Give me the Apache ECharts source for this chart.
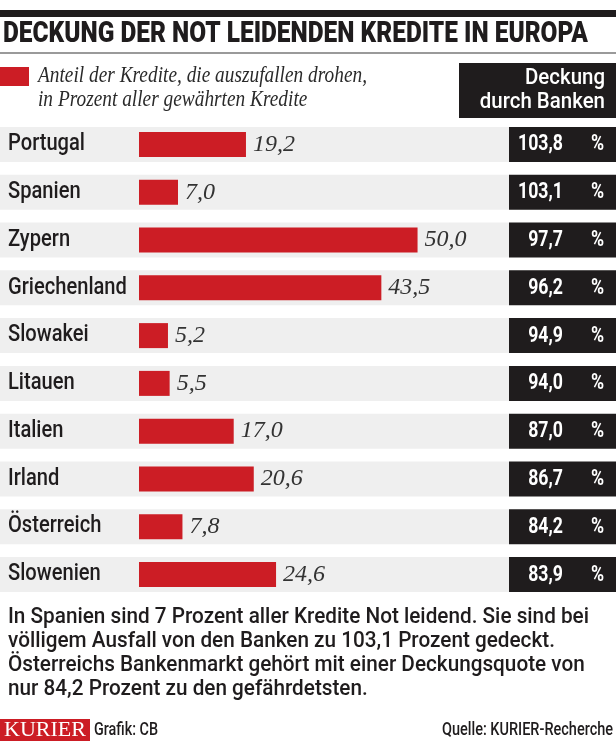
<!DOCTYPE html>
<html><head><meta charset="utf-8">
<script src="https://cdn.jsdelivr.net/npm/echarts@6/dist/echarts.min.js"></script>
<style>html,body{margin:0;padding:0;background:#fff}#c{width:616px;height:742px}</style>
</head><body><div id="c"></div>
<script>
// ---- data ----
const countries = ['Portugal','Spanien','Zypern','Griechenland','Slowakei','Litauen','Italien','Irland','Österreich','Slowenien'];
const shares = [19.2, 7.0, 50.0, 43.5, 5.2, 5.5, 17.0, 20.6, 7.8, 24.6];
const coverage = [103.8, 103.1, 97.7, 96.2, 94.9, 94.0, 87.0, 86.7, 84.2, 83.9];
const titleText = 'DECKUNG DER NOT LEIDENDEN KREDITE IN EUROPA';
const legendLines = ['Anteil der Kredite, die auszufallen drohen,', 'in Prozent aller gewährten Kredite'];
const headerLines = ['Deckung', 'durch Banken'];
const noteLines = [
  'In Spanien sind 7 Prozent aller Kredite Not leidend. Sie sind bei',
  'völligem Ausfall von den Banken zu 103,1 Prozent gedeckt.',
  'Österreichs Bankenmarkt gehört mit einer Deckungsquote von',
  'nur 84,2 Prozent zu den gefährdetsten.'
];
const brandText = 'KURIER';
const creditText = 'Grafik: CB';
const sourceText = 'Quelle: KURIER-Recherche';

// ---- style helpers ----
const SANS = 'Roboto, "Liberation Sans", Arial, sans-serif';
const SERIF = '"Liberation Serif", "DejaVu Serif", serif';
const RED = '#cc1d25', INK = '#1f1c1d', BOX = '#1f1c1d';
const REG = 500;
const mctx = document.createElement('canvas').getContext('2d');
function tw(text, font) { mctx.font = font; return mctx.measureText(text).width; }
const fmt = v => v.toFixed(1).replace('.', ',');

const sTitle = 585 / tw(titleText, '900 30px ' + SANS);
const sReg = 77 / tw('Portugal', REG + ' 23px ' + SANS);
const sHead = 80 / tw('Deckung', REG + ' 22px ' + SANS);
const sBold = 45 / tw('103,8', 'bold 22px ' + SANS);
const sLegend = 329 / tw(legendLines[0], 'italic 23px ' + SERIF);
const sNote = 581 / tw(noteLines[0], REG + ' 22px ' + SANS);
const sBrand = 82 / tw(brandText, '20px ' + SERIF);
const sCredit = 64 / tw(creditText, REG + ' 18px ' + SANS);
const sSource = 171 / tw(sourceText, REG + ' 18px ' + SANS);

function txt(x, y, text, o) {
  return {
    type: 'text', x: x, y: y, scaleX: o.scale || 1,
    style: {
      text: text, fontSize: o.size, fontFamily: o.family || SANS,
      fontWeight: o.weight || REG, fontStyle: o.fstyle || 'normal',
      fill: o.fill || INK, align: o.align || 'left', verticalAlign: 'middle'
    }
  };
}

const graphics = [
  { type: 'rect', shape: { x: 0, y: 10, width: 616, height: 7 }, style: { fill: INK } },
  txt(3, 34.5, titleText, { size: 30, weight: 900, scale: sTitle }),
  { type: 'rect', shape: { x: 0, y: 52, width: 616, height: 2 }, style: { fill: '#9a9a9a' } },
  { type: 'rect', shape: { x: 0, y: 67, width: 29, height: 19 }, style: { fill: RED } },
  txt(38, 76, legendLines[0], { size: 23, family: SERIF, fstyle: 'italic', weight: 'normal', fill: '#2a2a2a', scale: sLegend }),
  txt(38, 99.5, legendLines[1], { size: 23, family: SERIF, fstyle: 'italic', weight: 'normal', fill: '#2a2a2a', scale: sLegend }),
  { type: 'rect', shape: { x: 459, y: 63, width: 157, height: 55 }, style: { fill: BOX } },
  txt(605, 78.6, headerLines[0], { size: 22, fill: '#fff', align: 'right', scale: sHead }),
  txt(605, 102.6, headerLines[1], { size: 22, fill: '#fff', align: 'right', scale: sHead }),
  { type: 'rect', shape: { x: 0, y: 719, width: 90, height: 22 }, style: { fill: RED } },
  txt(4, 730.5, brandText, { size: 20, family: SERIF, weight: 'normal', fill: '#fff', scale: sBrand }),
  txt(94, 730, creditText, { size: 18, scale: sCredit }),
  txt(613, 730, sourceText, { size: 18, align: 'right', scale: sSource })
];
noteLines.forEach((l, i) => graphics.push(txt(8, 617 + 24 * i, l, { size: 22, scale: sNote })));

const chart = echarts.init(document.getElementById('c'), null, { renderer: 'canvas' });
chart.setOption({
  animation: false,
  backgroundColor: '#fff',
  grid: { left: 0, right: 0, top: 120.6, height: 477.8, containLabel: false },
  xAxis: { type: 'value', min: -24.95, max: 85.62, show: false },
  yAxis: { type: 'category', data: countries, inverse: true, show: false },
  graphic: graphics,
  series: [
    {
      type: 'custom', z: 1, silent: true,
      encode: { x: 0, y: 1 },
      data: countries.map((c, i) => [0, c, coverage[i]]),
      renderItem: function (params, api) {
        const idx = api.value(1);
        const cy = api.coord([0, idx])[1];
        const cs = params.coordSys;
        const right = cs.x + cs.width;
        const boxL = right - 107;
        return {
          type: 'group', children: [
            { type: 'rect', shape: { x: 0, y: cy - 17.5, width: boxL, height: 35 }, style: { fill: '#efefef' } },
            { type: 'rect', shape: { x: boxL, y: cy - 17.5, width: right - boxL, height: 35 }, style: { fill: BOX } },
            txt(8, cy, countries[idx], { size: 23, scale: sReg }),
            txt(right - 53, cy + 0.5, fmt(api.value(2)), { size: 22, weight: 'bold', fill: '#fff', align: 'right', scale: sBold }),
            txt(right - 12, cy + 0.5, '%', { size: 22, weight: 'bold', fill: '#fff', align: 'right', scale: sBold })
          ]
        };
      }
    },
    {
      type: 'bar', z: 2, data: shares, barWidth: 25,
      itemStyle: { color: RED },
      label: {
        show: true, position: 'right', distance: 7,
        formatter: p => fmt(p.value),
        fontFamily: SERIF, fontStyle: 'italic', fontSize: 24, color: '#333'
      }
    }
  ]
});
</script>
</body></html>
